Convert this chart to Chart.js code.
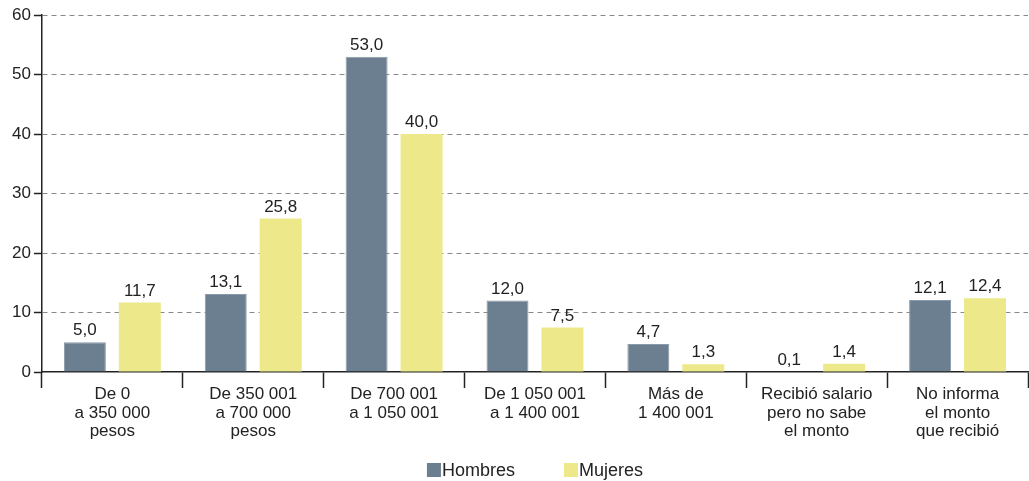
<!DOCTYPE html>
<html>
<head>
<meta charset="utf-8">
<script src="https://cdn.jsdelivr.net/npm/chart.js@4"></script>
<style>
  body { margin: 0; background: #fff; }
  #wrap { width: 1029px; height: 481px; }
</style>
</head>
<body>
<div id="wrap"><canvas id="grafico" width="1029" height="481"></canvas></div>
<script>
    const categorias = [
        ['De 0', 'a 350 000', 'pesos'],
        ['De 350 001', 'a 700 000', 'pesos'],
        ['De 700 001', 'a 1 050 001'],
        ['De 1 050 001', 'a 1 400 001'],
        ['Más de', '1 400 001'],
        ['Recibió salario', 'pero no sabe', 'el monto'],
        ['No informa', 'el monto', 'que recibió'],
    ];

    const hombres = [5.0, 13.1, 53.0, 12.0, 4.7, 0.1, 12.1];
    const mujeres = [11.7, 25.8, 40.0, 7.5, 1.3, 1.4, 12.4];

    const yTicks = [0, 10, 20, 30, 40, 50, 60];

    const fuente = 'Liberation Sans, Arial, sans-serif';

    // etiquetas de valor encima de cada barra
    const etiquetas = {
        id: 'etiquetas',
        afterDatasetsDraw(chart) {
            const ctx = chart.ctx;
            ctx.save();
            ctx.font = '17px ' + fuente;
            ctx.fillStyle = '#222';
            ctx.textAlign = 'center';
            ctx.textBaseline = 'bottom';
            chart.data.datasets.forEach((ds, i) => {
                chart.getDatasetMeta(i).data.forEach((bar, j) => {
                    const txt = ds.data[j].toFixed(1).replace('.', ',');
                    ctx.fillText(txt, bar.x, bar.y - 3);
                });
            });
            ctx.restore();
        }
    };

    // leyenda abajo, cuadro pegado al texto
    const leyenda = {
        id: 'leyenda',
        afterDraw(chart) {
            const ctx = chart.ctx;
            const area = chart.chartArea;
            ctx.save();
            ctx.font = '18px ' + fuente;
            ctx.textBaseline = 'middle';
            ctx.textAlign = 'left';
            const caja = 14, sep = 1, hueco = 49;
            const items = chart.data.datasets.map(ds => ({
                texto: ds.label,
                color: ds.backgroundColor,
                ancho: caja + sep + ctx.measureText(ds.label).width
            }));
            const total = items.reduce((s, it) => s + it.ancho, 0) + hueco * (items.length - 1);
            let x = (area.left + area.right) / 2 - total / 2;
            const y = 470;
            items.forEach(it => {
                ctx.fillStyle = it.color;
                ctx.fillRect(x, y - caja / 2, caja, caja);
                ctx.fillStyle = '#222';
                ctx.fillText(it.texto, x + caja + sep, y + 1);
                x += it.ancho + hueco;
            });
            ctx.restore();
        }
    };

    const data = {
        labels: categorias,
        datasets: [{
            label: 'Hombres',
            backgroundColor: '#6c7f90',
            borderColor: '#8a9aa8',
            borderWidth: 1,
            data: hombres,
            categoryPercentage: 0.78,
            barPercentage: 0.764,
        },
        {
            label: 'Mujeres',
            backgroundColor: '#ede889',
            borderColor: '#ede889',
            borderWidth: 0,
            data: mujeres,
            categoryPercentage: 0.78,
            barPercentage: 0.764,
        }]
    };

    const config = {
        type: 'bar',
        data: data,
        plugins: [etiquetas, leyenda],
        options: {
            responsive: false,
            animation: false,
            layout: { padding: { top: 15, right: 1, left: 9, bottom: 35 } },
            plugins: {
                tooltip: { enabled: false },
                legend: { display: false }
            },
            scales: {
                x: {
                    afterFit(scale) {
                        scale.height = 74;
                    },
                    grid: {
                        offset: true,
                        drawOnChartArea: false,
                        drawTicks: true,
                        tickLength: 16,
                        tickColor: '#222',
                        tickWidth: 1.5,
                    },
                    border: { color: '#222', width: 1.5 },
                    ticks: {
                        font: { family: fuente, size: 17, lineHeight: 1.1 },
                        color: '#222',
                        padding: -3,
                        maxRotation: 0,
                        autoSkip: false,
                    }
                },
                y: {
                    min: 0,
                    max: 60,
                    afterBuildTicks(scale) {
                        scale.ticks = yTicks.map(v => ({ value: v }));
                    },
                    grid: {
                        color: c => (c.tick && c.tick.value === 0) ? 'rgba(0,0,0,0)' : '#888888',
                        lineWidth: 1,
                        drawTicks: true,
                        tickLength: 8,
                        tickColor: '#222',
                        tickWidth: 1.5,
                        tickBorderDash: [],
                    },
                    border: { color: '#222', width: 1.5, dash: [5, 4] },
                    ticks: {
                        font: { family: fuente, size: 17 },
                        color: '#222',
                        padding: 3,
                    }
                }
            }
        }
    };

    const resultado = new Chart(
        document.getElementById('grafico'),
        config
    );
</script>
</body>
</html>
